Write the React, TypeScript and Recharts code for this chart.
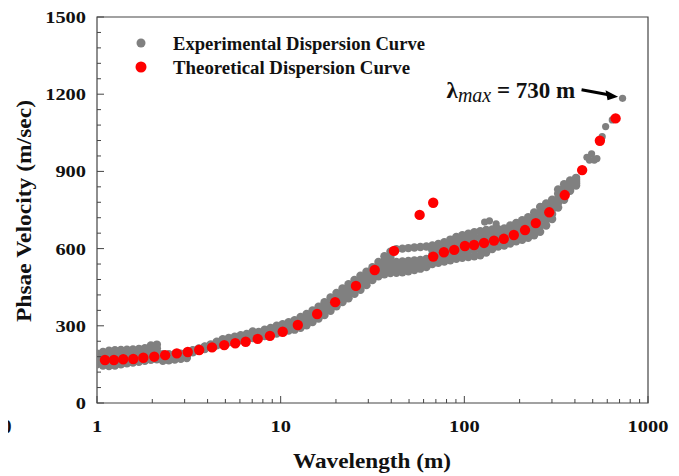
import { ScatterChart, Scatter, XAxis, YAxis, ReferenceArea, ReferenceDot } from 'recharts';

const FONT = '"Liberation Serif", "Times New Roman", serif';
const AXIS = '#444';

// axis ticks
const xTicks = [1, 2, 3, 4, 5, 6, 7, 8, 9, 10, 20, 30, 40, 50, 60, 70, 80, 90, 100, 200, 300, 400, 500, 600, 700, 800, 900, 1000];
const xLabels = [1, 10, 100, 1000];
const yTicks = [0, 60, 120, 180, 240, 300, 360, 420, 480, 540, 600, 660, 720, 780, 840, 900, 960, 1020, 1080, 1140, 1200, 1260, 1320, 1380, 1440, 1500];
const yLabels = [0, 300, 600, 900, 1200, 1500];

// experimental band: wavelength (m) and five velocity rows read top -> bottom (m/s)
const expWavelength = [
  1.0, 1.078, 1.162, 1.252, 1.35, 1.455, 1.569, 1.691, 1.823, 1.965,
  2.118, 2.283, 2.461, 2.653, 2.86, 3.083, 3.323, 3.582, 3.862, 4.163,
  4.487, 4.837, 5.214, 5.621, 6.059, 6.531, 7.04, 7.589, 8.181, 8.819,
  9.507, 10.25, 11.05, 11.91, 12.84, 13.84, 14.92, 16.08, 17.33, 18.69,
  20.14, 21.71, 23.41, 25.23, 27.2, 29.32, 31.61, 34.07, 36.73, 39.59,
  42.68, 46.01, 49.59, 53.46, 57.63, 62.12, 66.96, 72.19, 77.81, 83.88,
  90.42, 97.47, 105.1, 113.3, 122.1, 131.6, 141.9, 152.9, 164.9, 177.7,
  191.6, 206.5, 222.6, 240.0, 258.7, 278.9, 300.6, 324.1, 349.3, 376.6, 405.9,
];
const expRow1 = [
  192, 198, 203, 205, 206, 207, 208, 210, 213, 224,
  227, 190, 190, 191, 192, 194, 205, 212, 220, 228,
  238, 248, 253, 258, 263, 268, 278, 276, 285, 292,
  300, 306, 314, 322, 334, 346, 360, 374, 392, 410,
  428, 445, 462, 478, 495, 510, 528, 548, 570, 588,
  598, 600, 602, 604, 606, 608, 612, 618, 625, 635,
  645, 652, 658, 664, 668, 672, 674, 675, 678, 690,
  700, 710, 722, 740, 762, 775, 790, 830, 850, 865, 875,
];
const expRow2 = [
  182, 185, 188, 190, 192, 194, 195, 198, 201, 210,
  213, 184, 184, 186, 187, 189, 203, 210, 218, 225,
  235, 244, 249, 254, 258, 263, 272, 271, 279, 285,
  293, 299, 306, 313, 324, 335, 349, 363, 380, 397,
  415, 432, 448, 465, 481, 497, 516, 534, 553, 567,
  548, 550, 552, 554, 556, 560, 594, 600, 606, 615,
  624, 630, 635, 641, 645, 650, 655, 658, 662, 673,
  682, 691, 702, 718, 738, 754, 771, 813, 835, 855, 868,
];
const expRow3 = [
  171, 172, 174, 176, 178, 181, 183, 185, 189, 196,
  199, 177, 178, 180, 182, 185, 201, 208, 215, 223,
  231, 239, 245, 249, 254, 258, 265, 266, 273, 279,
  285, 291, 298, 304, 313, 324, 338, 351, 367, 384,
  402, 419, 435, 451, 468, 484, 503, 520, 535, 547,
  534, 536, 539, 542, 545, 549, 576, 582, 588, 595,
  603, 608, 613, 617, 621, 629, 636, 642, 645, 655,
  664, 672, 682, 696, 714, 733, 753, 795, 820, 845, 860,
];
const expRow4 = [
  161, 159, 159, 161, 164, 167, 170, 173, 176, 182,
  184, 171, 172, 175, 177, 180, 199, 205, 213, 220,
  228, 235, 240, 245, 249, 253, 259, 261, 266, 272,
  278, 284, 290, 294, 303, 313, 326, 340, 355, 371,
  389, 405, 421, 438, 454, 471, 491, 506, 518, 526,
  520, 522, 525, 529, 533, 539, 558, 563, 569, 575,
  581, 586, 590, 594, 598, 607, 617, 625, 629, 638,
  646, 653, 662, 674, 689, 711, 734, 778, 805, 835, 853,
];
const expRow5 = [
  150, 146, 144, 146, 150, 154, 157, 160, 164, 168,
  170, 164, 166, 169, 172, 175, 197, 203, 210, 217,
  224, 230, 236, 240, 244, 248, 252, 256, 260, 265,
  270, 276, 282, 285, 292, 302, 315, 328, 342, 358,
  376, 392, 407, 424, 440, 458, 478, 492, 500, 505,
  506, 508, 512, 517, 522, 528, 540, 545, 550, 555,
  560, 564, 567, 570, 574, 585, 598, 608, 612, 620,
  628, 634, 642, 652, 665, 690, 715, 760, 790, 825, 845,
];
// scattered experimental points (bumps and long-wavelength tail)
const tailWavelength = [129, 137, 149, 465, 480, 493, 510, 527, 563, 588, 639, 727];
const tailVelocity = [703, 708, 696, 955, 944, 968, 944, 950, 1035, 1074, 1100, 1184];

// theoretical curve
const theoWavelength = [
  1.105, 1.237, 1.39, 1.576, 1.787, 2.05, 2.35, 2.72, 3.12, 3.6,
  4.23, 4.93, 5.66, 6.45, 7.5, 8.74, 10.26, 12.4, 15.8, 19.8,
  25.7, 32.5, 41.4, 57.1, 67.7, 67.7, 77.4, 88.1, 100.7, 113,
  128, 145, 164, 186, 214, 245, 290, 352, 438, 547, 666,
];
const theoVelocity = [
  167, 167, 170, 171, 176, 180, 186, 193, 198, 206,
  216, 225, 232, 238, 249, 261, 277, 303, 346, 392,
  455, 517, 591, 731, 778, 569, 586, 595, 610, 614,
  622, 631, 638, 653, 672, 699, 741, 808, 905, 1019, 1106,
];

const expRows = [expRow1, expRow2, expRow3, expRow4, expRow5];
const expData = expRows.flatMap((row) => row.map((v, i) => ({ x: expWavelength[i], y: v })));
const tailData = tailWavelength.map((x, i) => ({ x, y: tailVelocity[i] }));
const theoData = theoWavelength.map((x, i) => ({ x, y: theoVelocity[i] }));

const GrayDot = (p: any) => <circle cx={p.cx} cy={p.cy} r={4.2} fill="#808080" />;
const TailDot = (p: any) => <circle cx={p.cx} cy={p.cy} r={3.6} fill="#808080" />;
const RedDot = (p: any) => <circle cx={p.cx} cy={p.cy} r={5.2} fill="#ff0000" />;

const labelStyle = { fontFamily: FONT, fontWeight: 700, fontSize: 17, fill: '#111' };

function XTick({ x, y, payload }: any) {
  const v = payload.value;
  const major = xLabels.includes(v);
  const s = String(v);
  return (
    <g>
      <line x1={x} x2={x} y1={y} y2={y - (major ? 7 : 4)} stroke={AXIS} />
      {major && (
        <text x={x} y={y + 29} textAnchor="middle" textLength={s.length * 10.2} lengthAdjust="spacingAndGlyphs" style={labelStyle}>
          {s}
        </text>
      )}
    </g>
  );
}

function YTick({ x, y, payload }: any) {
  const v = payload.value;
  const major = yLabels.includes(v);
  const s = String(v);
  return (
    <g>
      <line x1={x} x2={x + (major ? 7 : 4)} y1={y} y2={y} stroke={AXIS} />
      {major && (
        <text x={x - 11} y={y + 6} textAnchor="end" textLength={s.length * 10.2} lengthAdjust="spacingAndGlyphs" style={labelStyle}>
          {s}
        </text>
      )}
    </g>
  );
}

function RightTick({ x, y, payload }: any) {
  if (!yLabels.includes(payload.value)) return <g />;
  return <line x1={x} x2={x - 5} y1={y} y2={y} stroke={AXIS} />;
}

// arrow + label pointing at the longest wavelength
function MaxNote({ cx, cy }: any) {
  return (
    <g>
      <text x={cx - 176} y={cy} style={{ fontFamily: FONT, fontWeight: 700, fontSize: 23, fill: '#111' }}>
        λ
        <tspan dy={4} fontStyle="italic" fontWeight={400} fontSize={20}>max</tspan>
        <tspan dy={-4}> = 730 m</tspan>
      </text>
      <line x1={cx - 41} y1={cy - 8.5} x2={cx - 14} y2={cy - 3.5} stroke="#000" strokeWidth={3} />
      <polygon points={`${cx - 4.5},${cy - 1.6} ${cx - 17},${cy - 8} ${cx - 15},${cy + 2}`} fill="#000" />
    </g>
  );
}

export default function App() {
  return (
    <div style={{ position: 'relative', width: 679, height: 476, marginLeft: -8, marginTop: -8, background: '#fff' }}>
      <ScatterChart width={679} height={476} margin={{ top: 17, right: 31, bottom: 43, left: 37 }}>
        <XAxis
          type="number"
          dataKey="x"
          scale="log"
          domain={[1, 1000]}
          ticks={xTicks}
          interval={0}
          height={30}
          tickSize={0}
          tickMargin={0}
          axisLine={false}
          tickLine={false}
          tick={XTick}
          allowDataOverflow
        />
        <YAxis
          type="number"
          dataKey="y"
          domain={[0, 1500]}
          ticks={yTicks}
          interval={0}
          width={60}
          tickSize={0}
          tickMargin={0}
          axisLine={false}
          tickLine={false}
          tick={YTick}
        />
        <YAxis
          yAxisId="right"
          orientation="right"
          type="number"
          domain={[0, 1500]}
          ticks={yLabels}
          interval={0}
          width={0}
          tickSize={0}
          tickMargin={0}
          axisLine={false}
          tickLine={false}
          tick={RightTick}
        />
        <Scatter data={expData} shape={GrayDot} isAnimationActive={false} />
        <Scatter data={tailData} shape={TailDot} isAnimationActive={false} />
        <Scatter data={theoData} shape={RedDot} isAnimationActive={false} />
        <ReferenceArea x1={1} x2={1000} y1={0} y2={1500} fill="none" stroke={AXIS} strokeWidth={1.2} />
        <ReferenceDot x={727} y={1184} shape={MaxNote} />
      </ScatterChart>
      <svg width={679} height={476} style={{ position: 'absolute', left: 0, top: 0, pointerEvents: 'none' }}>
        <circle cx={141} cy={43} r={4.5} fill="#808080" />
        <circle cx={141} cy={67} r={5.5} fill="#ff0000" />
        <text x={173} y={50} textLength={252} lengthAdjust="spacingAndGlyphs" style={{ ...labelStyle, fontSize: 18 }}>
          Experimental Dispersion Curve
        </text>
        <text x={173} y={74} textLength={237} lengthAdjust="spacingAndGlyphs" style={{ ...labelStyle, fontSize: 18 }}>
          Theoretical Dispersion Curve
        </text>
        <text x={372} y={467.5} textAnchor="middle" textLength={158} lengthAdjust="spacingAndGlyphs" style={{ ...labelStyle, fontSize: 21 }}>
          Wavelength (m)
        </text>
        <text
          x={30.5}
          y={211}
          transform="rotate(-90 30.5 211)"
          textAnchor="middle"
          textLength={222}
          lengthAdjust="spacingAndGlyphs"
          style={{ ...labelStyle, fontSize: 21 }}
        >
          Phsae Velocity (m/sec)
        </text>
        <text x={2} y={433} style={{ ...labelStyle, fontSize: 19 }}>
          0
        </text>
      </svg>
    </div>
  );
}
